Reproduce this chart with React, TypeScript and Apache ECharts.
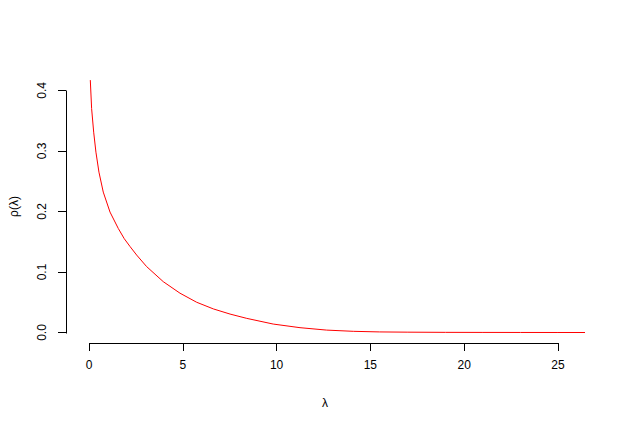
import React, { useEffect, useRef } from "react";
import * as echarts from "echarts";

const lambdaValues = [0.07, 0.14, 0.25, 0.37, 0.53, 0.76, 1.12, 1.56, 1.88, 2.19, 2.54, 3.07, 3.96, 4.85, 5.74, 6.63, 7.52, 8.41, 9.82, 11.25, 12.67, 14.09, 15.5, 17, 19, 21, 23, 25, 26.5];
const rhoValues = [0.417, 0.37, 0.331, 0.298, 0.265, 0.232, 0.199, 0.172, 0.155, 0.142, 0.128, 0.109, 0.084, 0.065, 0.05, 0.039, 0.0305, 0.0234, 0.014, 0.008, 0.004, 0.002, 0.001, 0.0006, 0.0003, 0.0002, 0.0001, 0.00005, 0.00003];
const xTicks = [0, 5, 10, 15, 20, 25];
const yTicks = [0, 0.1, 0.2, 0.3, 0.4];

// R-style plot region extents (4% padding around the data)
const X_MIN = -1.226;
const X_MAX = 26.39;
const Y_MIN = -0.0173;
const Y_MAX = 0.4337;

const FONT = "Liberation Sans";

export default function App() {
  const ref = useRef<HTMLDivElement>(null);
  useEffect(() => {
    if (!ref.current) return;
    const chart = echarts.init(ref.current, null, { renderer: "svg" });
    const data = lambdaValues.map((x, i) => [x, rhoValues[i]]);
    chart.setOption({
      animation: false,
      backgroundColor: "#ffffff",
      grid: { left: 66, right: 35, top: 70, bottom: 82, containLabel: false },
      xAxis: {
        type: "value",
        min: X_MIN,
        max: X_MAX,
        name: "λ",
        nameLocation: "middle",
        nameGap: 54,
        nameTextStyle: { fontFamily: FONT, fontSize: 12, color: "#000" },
        axisLine: { show: false, onZero: false },
        axisTick: { show: true, length: 8, customValues: xTicks, lineStyle: { color: "#000" } },
        axisLabel: { margin: 16, customValues: xTicks, fontFamily: FONT, fontSize: 12, color: "#000", formatter: (v: number) => String(v) },
        splitLine: { show: false },
      },
      yAxis: {
        type: "value",
        min: Y_MIN,
        max: Y_MAX,
        name: "ρ(λ)",
        nameLocation: "middle",
        nameRotate: 90,
        nameGap: 46,
        nameTextStyle: { fontFamily: FONT, fontSize: 12, color: "#000" },
        axisLine: { show: false, onZero: false },
        axisTick: { show: true, length: 8, customValues: yTicks, lineStyle: { color: "#000" } },
        axisLabel: { rotate: 90, margin: 18, customValues: yTicks, fontFamily: FONT, fontSize: 12, color: "#000", formatter: (v: number) => v.toFixed(1) },
        splitLine: { show: false },
      },
      series: [
        {
          type: "line",
          data,
          clip: false,
          smooth: false,
          showSymbol: false,
          lineStyle: { color: "#ff0000", width: 1 },
        },
      ],
    });

    // Axis lines spanning first to last tick (R style)
    const xLeft = chart.convertToPixel({ xAxisIndex: 0 }, xTicks[0]) as number;
    const xRight = chart.convertToPixel({ xAxisIndex: 0 }, xTicks[xTicks.length - 1]) as number;
    const yBase = chart.convertToPixel({ yAxisIndex: 0 }, Y_MIN) as number;
    const yBottom = chart.convertToPixel({ yAxisIndex: 0 }, yTicks[0]) as number;
    const yTop = chart.convertToPixel({ yAxisIndex: 0 }, yTicks[yTicks.length - 1]) as number;
    const xBase = chart.convertToPixel({ xAxisIndex: 0 }, X_MIN) as number;
    const sp = (v: number) => Math.round(v) + 0.5;
    chart.setOption({
      graphic: [
        {
          type: "line",
          shape: { x1: sp(xLeft), y1: sp(yBase), x2: sp(xRight), y2: sp(yBase) },
          style: { stroke: "#000", lineWidth: 1 },
          silent: true,
        },
        {
          type: "line",
          shape: { x1: sp(xBase), y1: sp(yBottom), x2: sp(xBase), y2: sp(yTop) },
          style: { stroke: "#000", lineWidth: 1 },
          silent: true,
        },
      ],
    });
    return () => chart.dispose();
  }, []);
  return <div ref={ref} style={{ position: "absolute", left: 0, top: 0, width: 619, height: 425 }} />;
}
